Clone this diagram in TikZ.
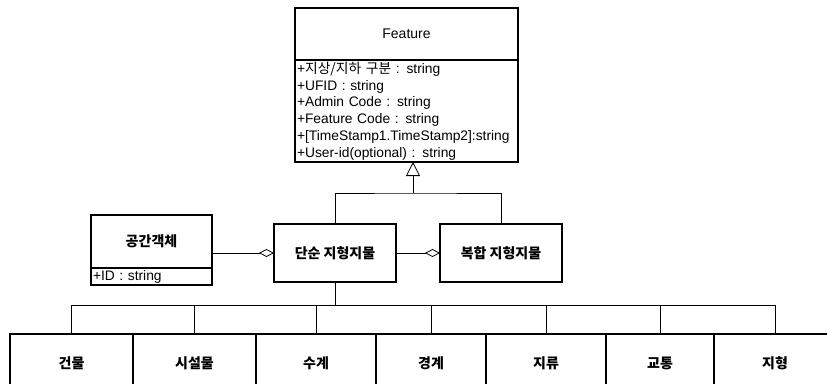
\documentclass[tikz,border=0pt]{standalone}
\usepackage{fontspec}
\setmainfont{Liberation Sans}
\newfontfamily\kr{Noto Sans CJK KR}
\usetikzlibrary{positioning, arrows.meta}

\begin{document}
\begin{tikzpicture}[x=1pt, y=-1pt,
    box/.style={draw, line width=1.3pt, inner sep=0pt, outer sep=0pt, anchor=north west},
    lbl/.style={font=\kr\bfseries\fontsize{14}{16}\selectfont},
    attrbox/.style={draw, line width=1.3pt, inner ysep=0pt, inner xsep=2pt, outer sep=0pt, align=left,
        font=\fontsize{13.8}{16.7}\selectfont},
    link/.style={line width=0.8pt},
    gen/.style={link, -{Triangle[open, length=14pt, width=14pt]}},
    agg/.style={link, -{Diamond[open, length=15pt, width=8pt]}}]
    \clip (0,0) rectangle (827,383);

    % Feature class
    \node[box, minimum width=223pt, minimum height=52pt, font=\fontsize{14}{16}\selectfont] (feat) at (295,8) {Feature};
    \node[attrbox, below=0pt of feat, text width=219pt, minimum height=102pt] (featattr)
        {+{\kr 지상/지하 구분} : string\\
         +UFID : string\\
         +Admin Code : string\\
         +Feature Code : string\\
         +[TimeStamp1.TimeStamp2]:string\\
         +User-id(optional) : string};

    % spatial object and features
    \node[box, lbl, minimum width=121pt, minimum height=53pt] (spatial) at (91,215) {공간객체};
    \node[attrbox, below=0pt of spatial, text width=117pt, minimum height=17pt] (spatialattr) {+ID : string};
    \node[box, lbl, minimum width=122pt, minimum height=58pt] (simple) at (274,224) {단순 지형지물};
    \node[box, lbl, minimum width=122pt, minimum height=58pt] (complex) at (440,224) {복합 지형지물};

    % generalization
    \coordinate (fork) at (413,193);
    \draw[gen] (fork) -- (fork |- featattr.south);
    \draw[link] (simple.north) |- (fork) -| (complex.north);

    % aggregation
    \draw[agg] (spatial.east |- simple.west) -- (simple.west);
    \draw[agg] (simple.east) -- (complex.west);

    % feature types
    \coordinate (bus) at (0,305);
    \foreach \i/\xl/\w/\txt in {1/10/123/건물, 2/133/123/시설물, 3/256/120/수계, 4/376/110/경계,
                                5/486/120/지류, 6/606/108/교통, 7/714/122/지형} {
        \node[box, minimum width=\w pt, minimum height=70pt] (b\i) at (\xl,334) {};
        \node[lbl, below=19pt of b\i.north] (t\i) {\txt};
        \draw[link] (b\i.north) -- (b\i.north |- bus);
    }
    \draw[link] (b1.north |- bus) -- (b7.north |- bus);
    \draw[link] (simple.south) -- (simple.south |- bus);
\end{tikzpicture}
\end{document}
